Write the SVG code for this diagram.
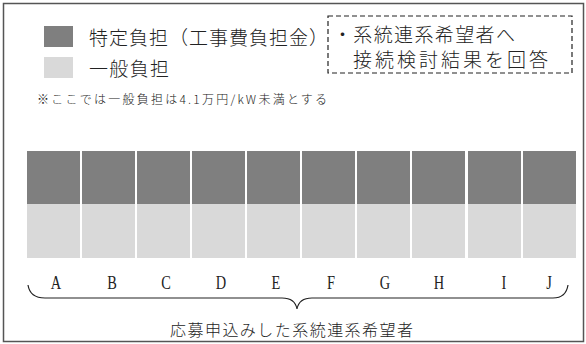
<svg xmlns="http://www.w3.org/2000/svg" width="586" height="344" viewBox="0 0 586 344">
<style>
.jp{font-family:"Noto Sans CJK JP","Noto Sans",sans-serif;font-weight:300;fill:#222}
.lt{font-family:"Liberation Serif",serif;font-size:18px;fill:#222;text-anchor:middle}
.dk{fill:#7f7f7f}
.lg{fill:#d9d9d9}
</style>
<rect x="0" y="0" width="586" height="344" fill="#ffffff"/>
<rect x="3.5" y="3.5" width="580" height="338" fill="none" stroke="#555" stroke-width="1.5"/>
<g id="legend">
<rect class="dk" x="44" y="26" width="29" height="21"/>
<text class="jp" x="89" y="45" font-size="19" textLength="239" lengthAdjust="spacing">特定負担（工事費負担金）</text>
<rect class="lg" x="44" y="57" width="29" height="21"/>
<text class="jp" x="89" y="76" font-size="19" textLength="80" lengthAdjust="spacing">一般負担</text>
<text class="jp" x="37" y="104" font-size="12" textLength="290" lengthAdjust="spacing">※ここでは一般負担は4.1万円/kW未満とする</text>
</g>
<g id="note">
<rect x="328" y="16" width="244" height="57" fill="none" stroke="#222" stroke-width="1.2" stroke-dasharray="5,3"/>
<text class="jp" x="333" y="42" font-size="19" textLength="182" lengthAdjust="spacing">・系統連系希望者へ</text>
<text class="jp" x="353" y="67" font-size="19" textLength="195" lengthAdjust="spacing">接続検討結果を回答</text>
</g>
<g id="bars">
<rect class="dk" x="27" y="151" width="53" height="53"/><rect class="lg" x="27" y="204" width="53" height="54"/>
<rect class="dk" x="82" y="151" width="53" height="53"/><rect class="lg" x="82" y="204" width="53" height="54"/>
<rect class="dk" x="137" y="151" width="53" height="53"/><rect class="lg" x="137" y="204" width="53" height="54"/>
<rect class="dk" x="192" y="151" width="53" height="53"/><rect class="lg" x="192" y="204" width="53" height="54"/>
<rect class="dk" x="247" y="151" width="53" height="53"/><rect class="lg" x="247" y="204" width="53" height="54"/>
<rect class="dk" x="302" y="151" width="53" height="53"/><rect class="lg" x="302" y="204" width="53" height="54"/>
<rect class="dk" x="357" y="151" width="53" height="53"/><rect class="lg" x="357" y="204" width="53" height="54"/>
<rect class="dk" x="412" y="151" width="53" height="53"/><rect class="lg" x="412" y="204" width="53" height="54"/>
<rect class="dk" x="468" y="151" width="53" height="53"/><rect class="lg" x="468" y="204" width="53" height="54"/>
<rect class="dk" x="523" y="151" width="53" height="53"/><rect class="lg" x="523" y="204" width="53" height="54"/>
</g>
<g id="labels" transform="scale(0.8,1)">
<text class="lt" x="70" y="289">A</text>
<text class="lt" x="140" y="289">B</text>
<text class="lt" x="207.5" y="289">C</text>
<text class="lt" x="276.25" y="289">D</text>
<text class="lt" x="345" y="289">E</text>
<text class="lt" x="413.75" y="289">F</text>
<text class="lt" x="481.25" y="289">G</text>
<text class="lt" x="548.75" y="289">H</text>
<text class="lt" x="630" y="289">I</text>
<text class="lt" x="686.25" y="289">J</text>
</g>
<g id="connectors">
<path d="M28,285 Q30,298 45,298 L282,298 Q295,298 297,309 Q299,298 312,298 L553,298 Q566,298 568,285" fill="none" stroke="#222" stroke-width="1.2"/>
</g>
<g id="caption">
<text class="jp" x="170" y="336" font-size="16" textLength="243" lengthAdjust="spacing">応募申込みした系統連系希望者</text>
</g>
</svg>
